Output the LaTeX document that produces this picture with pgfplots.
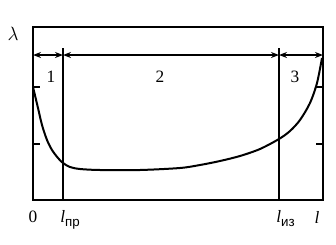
\documentclass[border=0pt]{standalone}
\usepackage{pgfplots}
\pgfplotsset{compat=1.18}
\usepackage{fontspec}
\setmainfont{Liberation Serif}
\newfontfamily\subfont{Liberation Sans}
\usetikzlibrary{arrows.meta}
\begin{document}
\begin{tikzpicture}
\begin{axis}[
  scale only axis, width=217.5pt, height=129.75pt,
  xmin=0, xmax=290, ymin=0, ymax=173,
  axis line style={line width=1.4pt},
  xtick=\empty,
  ytick={56,113}, yticklabels={},
  tick align=inside, major tick length=5pt,
  tick style={line width=1pt, black},
  clip=false,
]
\addplot[line width=1.5pt, smooth, tension=0.5] coordinates {
(0,113) (5,92) (9,75) (14,60) (19,50) (25,42) (30,37) (37,33) (47,31) (67,30)
(107,30) (147,32) (167,35) (187,39) (207,44) (227,51) (246,61) (257,69) (267,80) (277,97) (284,117) (289,142)
};
\draw[line width=0.9pt] (axis cs:30,0) -- (axis cs:30,152);
\draw[line width=0.9pt] (axis cs:246,0) -- (axis cs:246,152);
\draw[line width=1pt, {Stealth[length=6pt,width=4.5pt]}-{Stealth[length=6pt,width=4.5pt]}] (axis cs:0,145) -- (axis cs:30,145);
\draw[line width=1pt, {Stealth[length=6pt,width=4.5pt]}-{Stealth[length=6pt,width=4.5pt]}] (axis cs:30,145) -- (axis cs:246,145);
\draw[line width=1pt, {Stealth[length=6pt,width=4.5pt]}-{Stealth[length=6pt,width=4.5pt]}] (axis cs:246,145) -- (axis cs:290,145);
\node[font=\fontsize{13}{15}\selectfont] at (axis cs:18,123) {1};
\node[font=\fontsize{13}{15}\selectfont] at (axis cs:127,123) {2};
\node[font=\fontsize{13}{15}\selectfont] at (axis cs:262,123) {3};
\node[font=\fontsize{15}{17}\selectfont] at (axis cs:-20,166) {$\lambda$};
\node[font=\fontsize{13}{15}\selectfont] at (axis cs:0,-17) {0};
\node[font=\fontsize{13}{15}\selectfont, anchor=base west, inner sep=0pt] at (axis cs:27,-22) {\textit{l}\raisebox{-3pt}{\subfont\fontsize{10}{12}\selectfont пр}};
\node[font=\fontsize{13}{15}\selectfont, anchor=base west, inner sep=0pt] at (axis cs:243,-22) {\textit{l}\raisebox{-3pt}{\subfont\fontsize{10}{12}\selectfont из}};
\node[font=\fontsize{13}{15}\selectfont] at (axis cs:284,-17) {\textit{l}};
\path (axis cs:-33,-44) rectangle (axis cs:303,200);
\end{axis}
\end{tikzpicture}
\end{document}
